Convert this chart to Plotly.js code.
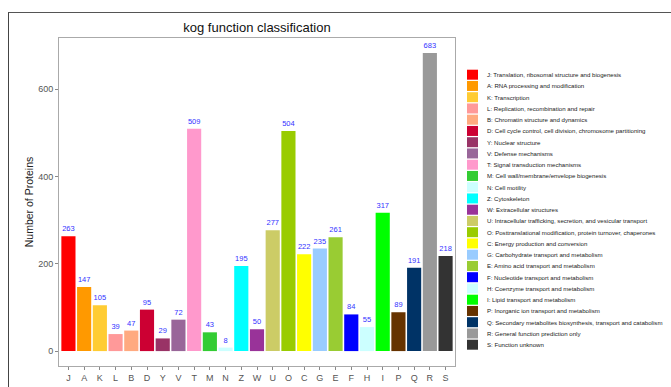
<!DOCTYPE html>
<html>
<head>
<meta charset="utf-8">
<script src="https://cdn.plot.ly/plotly-3.0.1.min.js"></script>
<style>
html,body{margin:0;padding:0;background:#fff;}
#wrap{position:relative;width:671px;height:387px;}
#chart{position:absolute;left:0;top:0;width:671px;height:387px;}
#frame{position:absolute;left:8px;top:12px;width:663px;height:375px;border-left:1.5px solid #444;border-top:1.5px solid #555;pointer-events:none;box-sizing:border-box;}
</style>
</head>
<body>
<div id="wrap"><div id="chart"></div><div id="frame"></div></div>
<script>
var categories = ["J","A","K","L","B","D","Y","V","T","M","N","Z","W","U","O","C","G","E","F","H","I","P","Q","R","S"];
var counts = [263,147,105,39,47,95,29,72,509,43,8,195,50,277,504,222,235,261,84,55,317,89,191,683,218];
var colors = ["#FF0000","#FF9900","#FFCC33","#FF9999","#FFAA80","#CC0033","#993366","#996699","#FF99CC","#33CC33","#CCFFFF","#00FFFF","#993399","#CCCC66","#99CC00","#FFFF00","#99CCFF","#99CC33","#0000FF","#CCFFFF","#00FF00","#663300","#003366","#999999","#333333"];
var descriptions = [
"Translation, ribosomal structure and biogenesis",
"RNA processing and modification",
"Transcription",
"Replication, recombination and repair",
"Chromatin structure and dynamics",
"Cell cycle control, cell division, chromosome partitioning",
"Nuclear structure",
"Defense mechanisms",
"Signal transduction mechanisms",
"Cell wall/membrane/envelope biogenesis",
"Cell motility",
"Cytoskeleton",
"Extracellular structures",
"Intracellular trafficking, secretion, and vesicular transport",
"Posttranslational modification, protein turnover, chaperones",
"Energy production and conversion",
"Carbohydrate transport and metabolism",
"Amino acid transport and metabolism",
"Nucleotide transport and metabolism",
"Coenzyme transport and metabolism",
"Lipid transport and metabolism",
"Inorganic ion transport and metabolism",
"Secondary metabolites biosynthesis, transport and catabolism",
"General function prediction only",
"Function unknown"
];

// layout geometry (pixels)
var W = 671, H = 387;
var mL = 59, mR = 216, mT = 38, mB = 21;
var pw = W - mL - mR, ph = H - mT - mB;
function px2x(px){ return (px - mL) / pw; }
function py2y(py){ return (H - mB - py) / ph; }

var shapes = [], annotations = [];
for (var i = 0; i < categories.length; i++) {
  var cy = 74.7 + 11.25 * i;
  shapes.push({type:"rect", xref:"paper", yref:"paper",
    x0: px2x(467), x1: px2x(478), y0: py2y(cy + 5), y1: py2y(cy - 5),
    fillcolor: colors[i], line:{width:0}});
  annotations.push({xref:"paper", yref:"paper", x: px2x(485), y: py2y(cy),
    xanchor:"left", yanchor:"middle", showarrow:false,
    text: categories[i] + ": " + descriptions[i],
    font:{family:"Liberation Sans, Arial, sans-serif", size:6.1, color:"#222"}});
}

var trace = {
  type: "bar",
  x: categories,
  y: counts,
  width: 0.9,
  marker: {color: colors, line:{width:0}},
  text: counts.map(String),
  textposition: "outside",
  constraintext: "none",
  cliponaxis: false,
  textfont: {family:"Liberation Sans, Arial, sans-serif", size:7.5, color:"#3333FF"},
  hoverinfo: "x+y",
  showlegend: false
};

var layout = {
  width: W, height: H,
  margin: {l: mL, r: mR, t: mT, b: mB, pad: 0},
  paper_bgcolor: "rgba(0,0,0,0)",
  plot_bgcolor: "#fff",
  showlegend: false,
  bargap: 0.1,
  title: {text: "kog function classification", x: 257 / W, xanchor: "center",
    y: 1 - 27 / H, yanchor: "middle", yref: "container",
    font: {family:"Liberation Sans, Arial, sans-serif", size: 13, color:"#111"}},
  xaxis: {
    type: "category", range: [-0.6, 24.6], autorange: false,
    showgrid: false, zeroline: false,
    showline: true, mirror: true, linecolor: "#aaaaaa", linewidth: 1,
    ticks: "outside", ticklen: 3, tickcolor: "#888", tickwidth: 1,
    tickfont: {family:"Liberation Sans, Arial, sans-serif", size: 9, color:"#555"}
  },
  yaxis: {
    range: [-34.15, 717.15], autorange: false,
    tickvals: [0, 200, 400, 600],
    showgrid: false, zeroline: false, automargin: true,
    showline: true, mirror: true, linecolor: "#aaaaaa", linewidth: 1,
    ticks: "outside", ticklen: 3, tickcolor: "#888", tickwidth: 1,
    tickfont: {family:"Liberation Sans, Arial, sans-serif", size: 9, color:"#555"},
    title: {text: "Number of Proteins", standoff: 2,
      font: {family:"Liberation Sans, Arial, sans-serif", size: 10.5, color:"#222"}}
  },
  shapes: shapes,
  annotations: annotations
};

Plotly.newPlot("chart", [trace], layout, {displayModeBar: false, staticPlot: true});
</script>
</body>
</html>
